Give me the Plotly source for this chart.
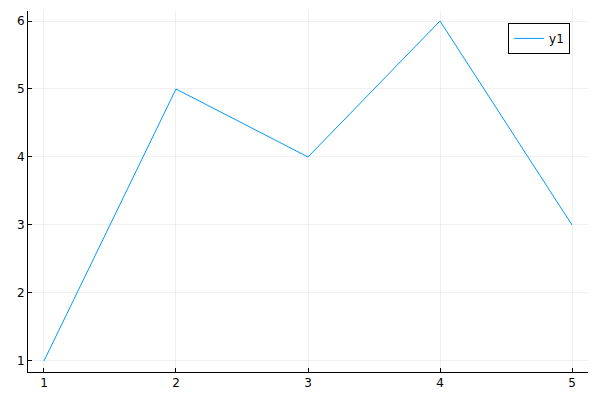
import plotly.graph_objects as go

x = [1, 2, 3, 4, 5]
y1 = [1, 5, 4, 6, 3]
tick_vals = [1, 2, 3, 4, 5, 6]

fig = go.Figure()
fig.add_scatter(x=x, y=y1, mode='lines', name='y1',
                line=dict(color='#009AFA', width=1))

fig.update_xaxes(range=[0.879, 5.121], tickvals=x, ticks='inside', ticklen=4,
                 tickcolor='black', showline=True, linecolor='black', linewidth=1,
                 showgrid=True, gridcolor='rgba(0,0,0,0.06)', gridwidth=1,
                 zeroline=False, mirror=False, automargin=False)
fig.update_yaxes(range=[0.838, 6.147], tickvals=tick_vals, ticks='inside', ticklen=4,
                 tickcolor='black', showline=True, linecolor='black', linewidth=1,
                 showgrid=True, gridcolor='rgba(0,0,0,0.06)', gridwidth=1,
                 zeroline=False, mirror=False, automargin=False)

fig.update_layout(width=600, height=400,
                  margin=dict(l=28, r=12, t=11, b=28),
                  plot_bgcolor='white', paper_bgcolor='white',
                  font=dict(family='DejaVu Sans', size=12, color='black'),
                  showlegend=True,
                  legend=dict(x=0.968, y=0.967, xanchor='right', yanchor='top',
                              bordercolor='black', borderwidth=1, bgcolor='white',
                              font=dict(size=12)))

# the page body has an 8px margin by default, drop it
fig.write_html("out.html", config={'displayModeBar': False},
               post_script="document.body.style.margin='0';")
